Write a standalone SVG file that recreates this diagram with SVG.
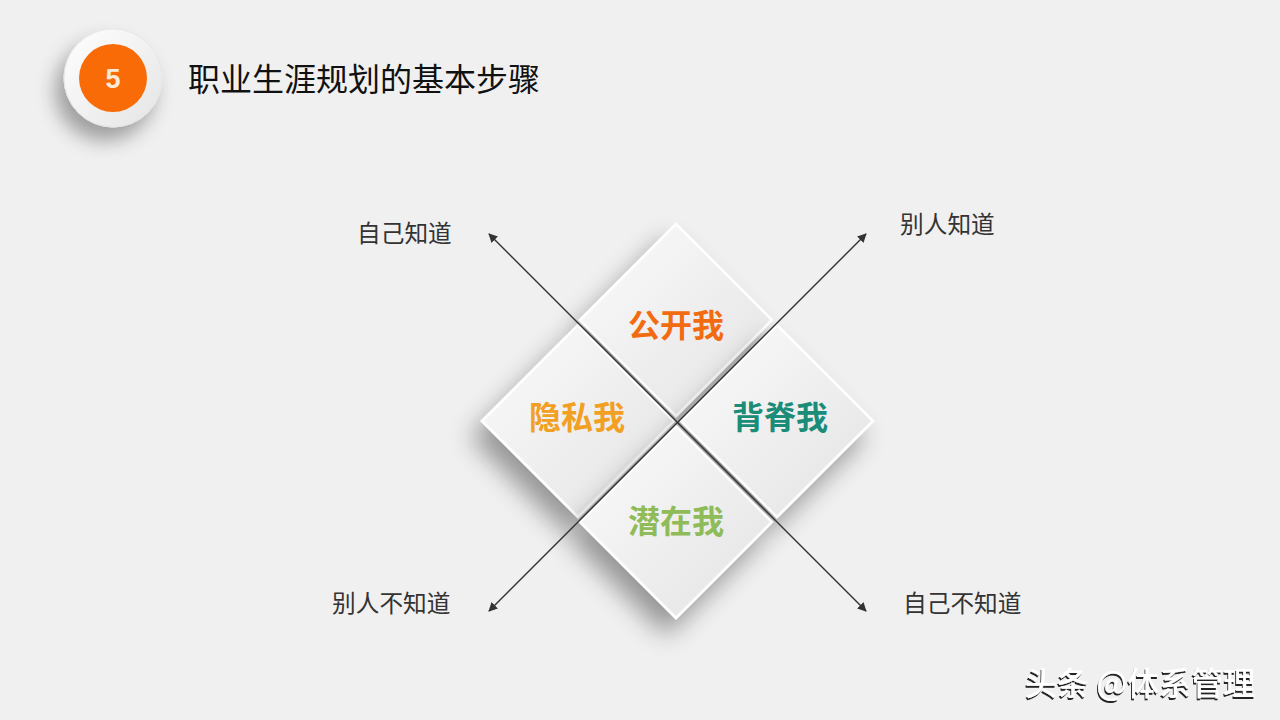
<svg xmlns="http://www.w3.org/2000/svg" width="1280" height="720" viewBox="0 0 1280 720">
  <style>
    .lbl { font-family: "Noto Sans CJK SC", "Liberation Sans", sans-serif; font-size: 23.7px; fill: #333333; }
    .big { font-family: "Noto Sans CJK SC", "Liberation Sans", sans-serif; font-size: 32px; font-weight: 700; text-anchor: middle; }
    .dia { fill: url(#diaGrad); stroke: #ffffff; stroke-width: 2.5; filter: url(#shadow); }
    .ax { stroke: #333333; stroke-width: 1.4; fill: none; marker-start: url(#arr); marker-end: url(#arr); }
  </style>
  <defs>
    <linearGradient id="diaGrad" x1="0" y1="0" x2="1" y2="1">
      <stop offset="0" stop-color="#fbfbfb"/>
      <stop offset="1" stop-color="#e3e3e3"/>
    </linearGradient>
    <linearGradient id="ringGrad" x1="0" y1="0" x2="1" y2="1">
      <stop offset="0" stop-color="#ffffff"/>
      <stop offset="1" stop-color="#e4e4e4"/>
    </linearGradient>
    <filter id="shadow" x="-50%" y="-50%" width="200%" height="200%">
      <feGaussianBlur in="SourceAlpha" stdDeviation="13"/>
      <feOffset dx="-10" dy="16" result="b"/>
      <feComponentTransfer><feFuncA type="linear" slope="0.38"/></feComponentTransfer>
      <feMerge><feMergeNode/><feMergeNode in="SourceGraphic"/></feMerge>
    </filter>
    <filter id="badgeShadow" x="-60%" y="-60%" width="220%" height="220%">
      <feGaussianBlur in="SourceAlpha" stdDeviation="10"/>
      <feOffset dx="-8" dy="13" result="b"/>
      <feComponentTransfer><feFuncA type="linear" slope="0.35"/></feComponentTransfer>
      <feMerge><feMergeNode/><feMergeNode in="SourceGraphic"/></feMerge>
    </filter>
    <filter id="wm" x="-10%" y="-20%" width="120%" height="140%">
      <feOffset in="SourceAlpha" dx="-1.5" dy="1.5" result="o"/>
      <feFlood flood-color="#000000" flood-opacity="0.85"/>
      <feComposite in2="o" operator="in"/>
      <feMerge><feMergeNode/><feMergeNode in="SourceGraphic"/></feMerge>
    </filter>
    <marker id="arr" viewBox="0 0 10 10" refX="9" refY="5" markerWidth="9" markerHeight="9" markerUnits="userSpaceOnUse" orient="auto-start-reverse">
      <path d="M0,0 L10,5 L0,10 z" fill="#333333"/>
    </marker>
  </defs>

  <rect width="1280" height="720" fill="#f0f0f0"/>

  <g id="badge">
    <circle cx="113" cy="78" r="49" fill="url(#ringGrad)" stroke="#e6e6e6" stroke-width="1" filter="url(#badgeShadow)"/>
    <circle cx="113" cy="78" r="34" fill="#f96b07"/>
    <text x="113" y="88" text-anchor="middle" font-family="Liberation Sans, Arial, sans-serif" font-size="27" font-weight="700" fill="#fbe9d8">5</text>
  </g>

  <g id="title">
    <text x="188" y="91" font-family="Noto Sans CJK SC, Liberation Sans, sans-serif" font-size="32" fill="#111111">职业生涯规划的基本步骤</text>
  </g>

  <g id="node-top">
    <polygon class="dia" points="676,224 772,320 676,416 580,320"/>
    <text class="big" x="676" y="337" fill="#f26b10">公开我</text>
  </g>
  <g id="node-left">
    <polygon class="dia" points="578,325 674,421 578,517 482,421"/>
    <text class="big" x="577" y="429" fill="#f1a023">隐私我</text>
  </g>
  <g id="node-right">
    <polygon class="dia" points="777,325 873,421 777,517 681,421"/>
    <text class="big" x="780" y="429" fill="#1a8c78">背脊我</text>
  </g>
  <g id="node-bottom">
    <polygon class="dia" points="676,426 772,522 676,618 580,522"/>
    <text class="big" x="676" y="533" fill="#8fbb58">潜在我</text>
  </g>

  <g id="connectors">
    <line class="ax" x1="489" y1="234" x2="866" y2="611"/>
    <line class="ax" x1="866" y1="234" x2="489" y2="611"/>
  </g>

  <g id="labels">
    <text class="lbl" x="357" y="242">自己知道</text>
    <text class="lbl" x="900" y="233">别人知道</text>
    <text class="lbl" x="332" y="612">别人不知道</text>
    <text class="lbl" x="903" y="612">自己不知道</text>
  </g>

  <g id="watermark">
    <text x="1025" y="695" font-family="Noto Sans CJK SC, Liberation Sans, sans-serif" font-size="32" font-weight="500" fill="#ffffff" filter="url(#wm)">头条 @体系管理</text>
  </g>
</svg>
